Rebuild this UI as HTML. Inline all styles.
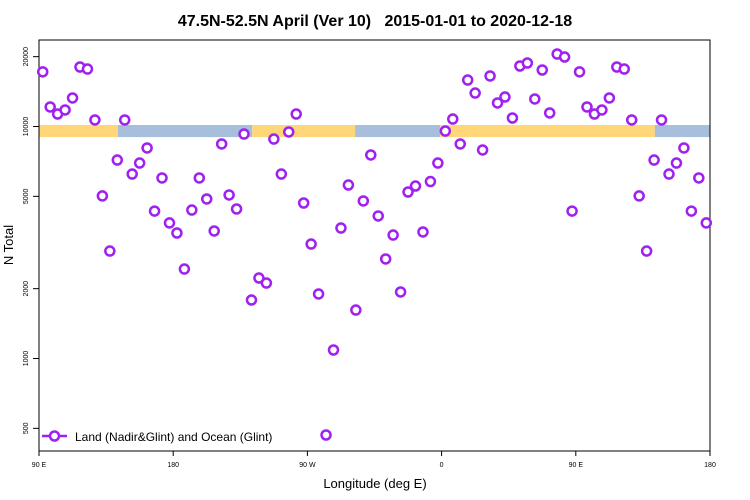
<!DOCTYPE html>
<html><head><meta charset="utf-8"><style>
body{margin:0;background:#fff}
svg{display:block;font-family:"Liberation Sans",Arial,sans-serif}
</style></head><body>
<svg id="chart" width="750" height="500">
<text x="375" y="26" text-anchor="middle" font-size="16" font-weight="bold" style="white-space:pre">47.5N-52.5N April (Ver 10)   2015-01-01 to 2020-12-18</text>
<g id="band"></g>
<rect x="39" y="40" width="671" height="411" fill="none" stroke="#000" stroke-width="1"/>
<g id="yaxis"></g>
<g id="xaxis"></g>
<text x="375" y="488" text-anchor="middle" font-size="13">Longitude (deg E)</text>
<text transform="translate(13,245) rotate(-90)" text-anchor="middle" font-size="13">N Total</text>
<g id="points"></g>
<g>
<line x1="42" y1="436" x2="67" y2="436" stroke="#A020F0" stroke-width="2.5"/>
<circle cx="54.5" cy="436" r="4.5" fill="#fff" stroke="#A020F0" stroke-width="2.5"/>
<text x="75" y="441" font-size="12">Land (Nadir&amp;Glint) and Ocean (Glint)</text>
</g>
</svg>
<script>
const lons = [];
for (let i = 0; i < 72; i++) lons.push(92.5 + 5 * i);
const values = [17200,12140,11320,11780,13270,18050,17690,10670,5020,2905,7170,10670,6240,6960,8080,4320,6000,3840,3475,2430,4365,6000,4870,3545,8410,5070,4410,9280,1787,2223,2115,8830,6240,9470,11320,4680,3115,1897,468,1088,3650,5595,1618,4775,7540,4115,2685,3405,1935,5220,5540,3510,5790,6960,9560,10770,8410,15860,13940,7920,16510,12630,13400,10880,18230,18780,13140,17520,11440,20530,19930,4320];
const yTicks = [500,1000,2000,5000,10000,20000];
const xTickLons = [90,180,270,360,450,540];
const xTickLabels = ["90 E","180","90 W","0","90 E","180"];
const bandSegs = [[90,143,"land"],[143,233,"ocean"],[233,302,"land"],[302,359,"ocean"],[359,503,"land"],[503,540,"ocean"]];
const bandLow = 9000, bandHigh = 10150;

const NS = "http://www.w3.org/2000/svg";
const xS = l => 39 + (l - 90) * 671 / 450;
const yS = v => 126.5 - 232 * Math.log10(v / 10000);
function mk(tag, attrs, parent){const e=document.createElementNS(NS,tag);for(const k in attrs)e.setAttribute(k,attrs[k]);parent.appendChild(e);return e;}

const band = document.getElementById('band');
bandSegs.forEach(s => {
  const r = mk('rect',{x:xS(s[0]),y:yS(bandHigh),width:xS(s[1])-xS(s[0]),height:yS(bandLow)-yS(bandHigh),fill:s[2]==="land"?"#FFD779":"#A7BEDC"},band);
  
  
});

const ya = document.getElementById('yaxis');
yTicks.forEach(t => {
  const y = yS(t);
  const l = mk('line',{x1:33,x2:39,y1:y,y2:y,stroke:"#000"},ya);
  
  
  const tx = mk('text',{transform:`translate(28,${y}) rotate(-90)`,'text-anchor':'middle','font-size':7},ya);
  tx.textContent = t;
  
  
});

const xa = document.getElementById('xaxis');
xTickLons.forEach((t, i) => {
  const x = xS(t);
  const l = mk('line',{x1:x,x2:x,y1:451,y2:456,stroke:"#000"},xa);
  
  
  const tx = mk('text',{x:x,y:467,'text-anchor':'middle','font-size':7},xa);
  tx.textContent = xTickLabels[i];
  
  
});

const pts = document.getElementById('points');
lons.forEach((l, i) => {
  [l, l + 360].forEach(L => {
    if (L < 90 || L > 540) return;
    const c = mk('circle',{cx:xS(L),cy:yS(values[i]),r:4.5,fill:"#fff",stroke:"#A020F0","stroke-width":2.5},pts);
    
    
  });
});
</script>
</body></html>
